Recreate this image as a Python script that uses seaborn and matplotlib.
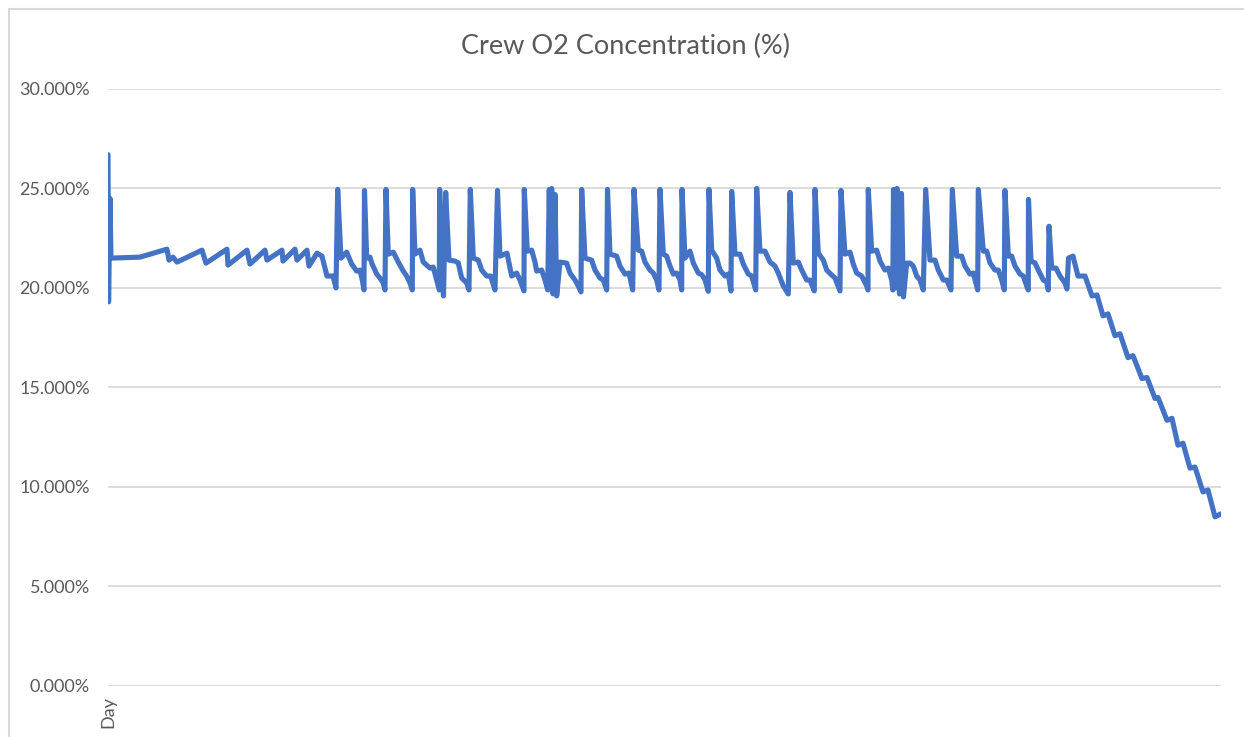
import matplotlib
matplotlib.use("Agg")
import matplotlib.pyplot as plt
import numpy as np
import pandas as pd
import seaborn as sns
from matplotlib.lines import Line2D
from matplotlib.ticker import FuncFormatter

# time step index (one step per sample) and crew O2 concentration in %
start_t = [0, 0.6, 2, 3, 32, 59, 61, 65, 69, 94, 98, 119, 120, 139, 142, 157, 159,
           174, 175, 187, 189, 199, 201, 209, 214, 219, 225, 228]
start_o2 = [26.7, 19.3, 24.5, 21.5, 21.55, 21.95, 21.4, 21.55, 21.3, 21.9, 21.25, 21.95,
            21.15, 21.9, 21.2, 21.9, 21.4, 21.9, 21.35, 21.95, 21.4, 21.9, 21.1, 21.75,
            21.6, 20.6, 20.6, 20.0]

cycle_t = [
    229.7, 233, 238.7, 243.7, 248.7, 252, 254.3, 256,
    256.5, 258.7, 262, 263.7, 268.7, 272, 275.3, 277,
    278, 280.3, 285.3, 290.3, 295.3, 298.7, 302, 304.3,
    304.7, 307, 312, 315.3, 322, 325.3, 328.7, 331.3,
    331.7, 333.5, 335.5, 337.7, 341, 347, 350.3, 353.7, 358.7, 361,
    362.3, 365.3, 370.3, 373.7, 378.7, 382.7, 387,
    389.5, 392, 399, 403.7, 408.7, 412, 416,
    416.3, 419.3, 423.7, 427, 428.7, 433.7, 437, 439.7,
    441.3, 442.5, 443.7, 445, 447, 448.7, 452, 458.7, 462, 467, 470.3, 473,
    473.7, 477, 483.7, 487, 492, 495.3, 498.7,
    499.5, 502, 508.7, 512, 517, 521, 524.7,
    526, 530.3, 533.7, 537, 542, 545.3, 548.7, 551,
    552, 555.3, 558.7, 562, 565.3, 568.7, 572, 573.7,
    574, 577, 582, 585.3, 590.3, 593.7, 597, 600.3,
    601, 603.7, 608.7, 612, 617, 620.3, 623,
    623.7, 627, 632, 635.3, 640.3, 643.7, 647.7,
    648.7, 652, 657, 662, 667, 670.3, 675.3, 680.3,
    682, 685.3, 690.3, 693.7, 698.7, 702, 706.3,
    707, 710.3, 715.3, 718.7, 723.7, 727, 732,
    733, 737, 742, 745.3, 748.7, 753.7, 758.7, 760,
    760.3, 763.7, 768.7, 772, 777, 780.3, 783.7, 784.8,
    785.5, 787.5, 789, 791.5, 793.5, 795.5, 798.7, 802, 805.3, 808.7, 812, 815.3,
    817.7, 822, 827, 830.3, 835.3, 838.7, 843,
    844.3, 848.7, 853.7, 857, 862, 865.3, 869.7,
    870.3, 875.3, 878.7, 882, 887, 890.3, 893.7, 896.3,
    897, 900.3, 903.7, 907, 912, 915.3, 918.7, 920.3,
    920.5, 923, 927, 930.3, 935.3, 938.7, 940.3,
    941, 943.7, 948, 952, 957, 959,
]
cycle_o2 = [
    24.95, 21.5, 21.8, 21.2, 20.85, 20.9, 20.4, 19.9,
    24.9, 21.5, 21.55, 21.26, 20.7, 20.5, 20.25, 19.9,
    24.95, 21.7, 21.8, 21.3, 20.85, 20.6, 20.25, 19.9,
    24.95, 21.7, 21.9, 21.3, 21.0, 21.05, 20.4, 19.9,
    24.95, 21.0, 19.6, 24.8, 21.4, 21.35, 21.26, 20.5, 20.25, 19.9,
    24.95, 21.5, 21.4, 20.9, 20.6, 20.6, 19.9,
    24.9, 21.6, 21.75, 20.6, 20.75, 20.4, 19.85,
    24.95, 21.85, 21.9, 21.3, 20.85, 20.9, 20.4, 19.9,
    24.95, 20.0, 25.0, 19.7, 24.7, 19.6, 21.3, 21.25, 20.75, 20.4, 20.1, 19.8,
    24.95, 21.5, 21.4, 20.9, 20.5, 20.4, 19.9,
    24.95, 21.7, 21.6, 21.1, 20.7, 20.75, 19.9,
    24.95, 21.9, 21.85, 21.3, 20.9, 20.75, 20.4, 19.9,
    24.95, 21.7, 21.6, 21.1, 20.7, 20.75, 20.4, 19.9,
    24.95, 21.5, 21.85, 21.26, 20.75, 20.67, 20.42, 19.83,
    24.95, 21.9, 21.5, 20.9, 20.6, 20.7, 19.85,
    24.85, 21.7, 21.7, 21.2, 20.7, 20.6, 19.9,
    25.0, 21.85, 21.85, 21.3, 21.1, 20.75, 20.1, 19.7,
    24.8, 21.25, 21.3, 20.9, 20.4, 20.4, 19.85,
    24.95, 21.75, 21.4, 20.9, 20.65, 20.5, 19.85,
    24.9, 21.7, 21.8, 21.2, 20.75, 20.6, 20.1, 19.9,
    24.95, 21.85, 21.9, 21.35, 20.9, 21.0, 20.4, 19.9,
    24.95, 20.0, 25.0, 19.7, 24.75, 19.55, 21.25, 21.25, 21.1, 20.6, 20.4, 19.9,
    24.95, 21.4, 21.4, 20.9, 20.4, 20.4, 19.9,
    24.95, 21.6, 21.6, 21.1, 20.7, 20.75, 19.9,
    24.95, 21.85, 21.85, 21.26, 20.9, 20.9, 20.4, 19.9,
    24.9, 21.6, 21.6, 21.1, 20.7, 20.6, 20.1, 19.9,
    24.45, 21.35, 21.26, 20.9, 20.4, 20.3, 19.9,
    23.1, 21.0, 21.0, 20.6, 20.25, 19.95,
]

tail_t = [960.5, 965, 970, 977, 984, 989, 995, 1000, 1007, 1012, 1020, 1025, 1034, 1039,
          1047, 1050, 1059, 1064, 1070, 1075, 1082, 1087, 1095, 1100, 1107, 1113]
tail_o2 = [21.5, 21.6, 20.6, 20.6, 19.6, 19.65, 18.6, 18.7, 17.6, 17.7, 16.5, 16.6, 15.45,
           15.5, 14.45, 14.5, 13.35, 13.45, 12.1, 12.2, 10.95, 11.0, 9.75, 9.85, 8.5, 8.65]

df = pd.DataFrame({
    "t": start_t + cycle_t + tail_t,
    "o2": start_o2 + cycle_o2 + tail_o2,
})

sns.set_theme(style="white")
plt.rcParams["font.family"] = ["Lato", "DejaVu Sans"]

fig = plt.figure(figsize=(12.44, 7.37), dpi=100)
ax = fig.add_axes([0.0868, 0.0692, 0.8947, 0.8101])

sns.lineplot(data=df, x="t", y="o2", sort=False, estimator=None, ax=ax,
             color="#4472C4", linewidth=3.7,
             solid_joinstyle="round", solid_capstyle="round")

ax.set_xlim(0, 1113)
ax.set_ylim(0, 30)
ax.set_yticks(np.arange(0, 31, 5))
ax.yaxis.set_major_formatter(FuncFormatter(lambda v, _: f"{v:.3f}%"))
ax.set_xticks([0])
ax.set_xticklabels(["Day"], rotation=90)
ax.tick_params(axis="both", length=0, labelsize=13, labelcolor="#595959")
ax.tick_params(axis="y", pad=13)
ax.tick_params(axis="x", pad=7)
ax.yaxis.grid(True, color="#D9D9D9", linewidth=1.3)
ax.xaxis.grid(False)
ax.set_axisbelow(True)
for s in ax.spines.values():
    s.set_visible(False)
ax.set_xlabel("")
ax.set_ylabel("")

fig.text(0.503, 0.937, "Crew O2 Concentration (%)", ha="center", va="center",
         fontsize=19.5, color="#595959")

# chart area border (top and left edges visible)
fig.add_artist(Line2D([9 / 1244, 1], [1 - 9 / 737, 1 - 9 / 737],
                      transform=fig.transFigure, color="#D9D9D9", linewidth=1.5))
fig.add_artist(Line2D([9 / 1244, 9 / 1244], [0, 1 - 9 / 737],
                      transform=fig.transFigure, color="#D9D9D9", linewidth=1.5))

fig.savefig("out.png", dpi=100)
plt.close(fig)
